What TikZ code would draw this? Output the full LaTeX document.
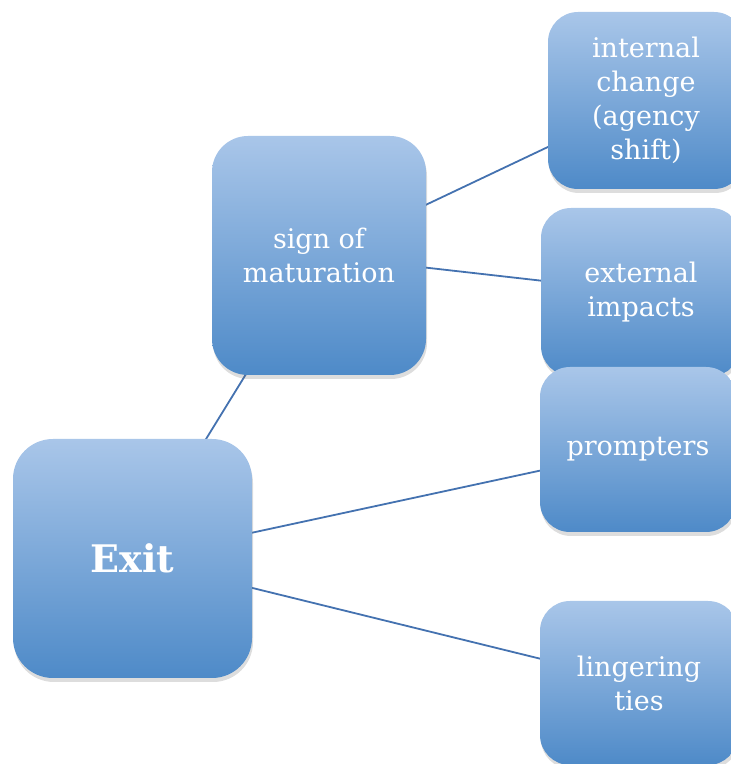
\documentclass[tikz,border=0pt]{standalone}
\usepackage{fontspec}
\setmainfont{DejaVu Serif}
\usetikzlibrary{shadows,backgrounds}
\definecolor{boxtop}{RGB}{169,198,233}
\definecolor{boxbot}{RGB}{78,138,200}
\definecolor{linkc}{RGB}{68,114,176}
\tikzset{
  box/.style={shape=rectangle, inner sep=0pt, align=center, text=white,
    top color=boxtop, bottom color=boxbot, draw=none,
    font=\fontsize{27}{34}\selectfont,
    drop shadow={opacity=0.22, shadow xshift=1pt, shadow yshift=-4pt, fill=black!60}},
  link/.style={draw=linkc, line width=1.8pt}
}
\begin{document}
\begin{tikzpicture}[x=1pt,y=1pt]
\useasboundingbox (0,0) rectangle (731,764);
\node[box, minimum width=239pt, minimum height=239pt, rounded corners=40pt,
      font=\fontsize{38}{42}\selectfont\bfseries] (exit) at (132.5,205.5) {Exit};
\node[box, minimum width=214pt, minimum height=239pt, rounded corners=36pt] (sign) at (319,508.5) {sign of\\maturation};
\node[box, minimum width=196pt, minimum height=177pt, rounded corners=30pt] (internal) at (646,663.5) {internal\\change\\(agency\\shift)};
\node[box, minimum width=200pt, minimum height=168pt, rounded corners=30pt] (external) at (641,472) {external\\impacts};
\node[box, minimum width=196pt, minimum height=165pt, rounded corners=30pt] (prompters) at (638,314.5) {prompters};
\node[box, minimum width=198pt, minimum height=164pt, rounded corners=30pt] (lingering) at (639,81) {lingering\\ties};
\begin{scope}[on background layer]
\draw[link] (exit.center) -- (sign.center);
\draw[link] (sign.center) -- (internal.center);
\draw[link] (sign.center) -- (external.center);
\draw[link] (exit.center) -- (prompters.center);
\draw[link] (exit.center) -- (lingering.center);
\end{scope}
\end{tikzpicture}
\end{document}
